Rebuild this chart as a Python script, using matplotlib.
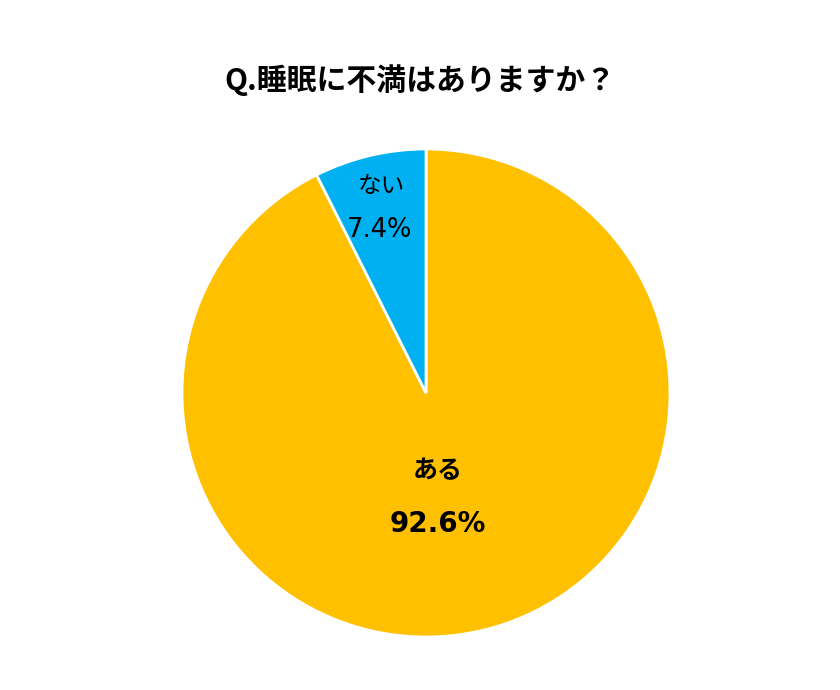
import matplotlib
matplotlib.use("Agg")
import matplotlib.pyplot as plt
import numpy as np

plt.rcParams['font.family'] = ['Noto Sans CJK JP', 'DejaVu Sans']

title = "Q.睡眠に不満はありますか？"
categories = ["ある", "ない"]
values = [92.6, 7.4]
colors = ["#FFC000", "#00B0F0"]

W, H = 840, 690
fig = plt.figure(figsize=(W/100, H/100), dpi=100)
cx, cy, r = 426, 393, 244
ax = fig.add_axes([(cx - r)/W, (H - cy - r)/H, 2*r/W, 2*r/H])
wedges, _ = ax.pie(values, colors=colors, startangle=90, counterclock=False,
                   radius=1.0, wedgeprops=dict(edgecolor="white", linewidth=2))
ax.set_xlim(-1, 1)
ax.set_ylim(-1, 1)
ax.set_aspect("equal")
ax.axis("off")

# label positions (name, pct) in axes data units
pos = {"ある": ((0.049, -0.322), (0.047, -0.535)),
       "ない": ((-0.184, 0.848), (-0.189, 0.67))}
for cat, val in zip(categories, values):
    (nx, ny), (px, py) = pos[cat]
    bold = cat == "ある"
    ax.text(nx, ny, cat, ha="center", va="center", fontsize=18 if bold else 17,
            fontweight="bold" if bold else "normal", color="#000000")
    ax.text(px, py, f"{val:.1f}%", ha="center", va="center",
            fontsize=20 if bold else 18.5,
            family=['DejaVu Sans', 'Noto Sans CJK JP'],
            fontweight="bold" if bold else "normal", color="#000000")

fig.text(420/W, 1 - 80/H, title, ha="center", va="center",
         fontsize=21.5, fontweight="bold", color="#000000")

fig.savefig("out.png", dpi=100, facecolor="white")
